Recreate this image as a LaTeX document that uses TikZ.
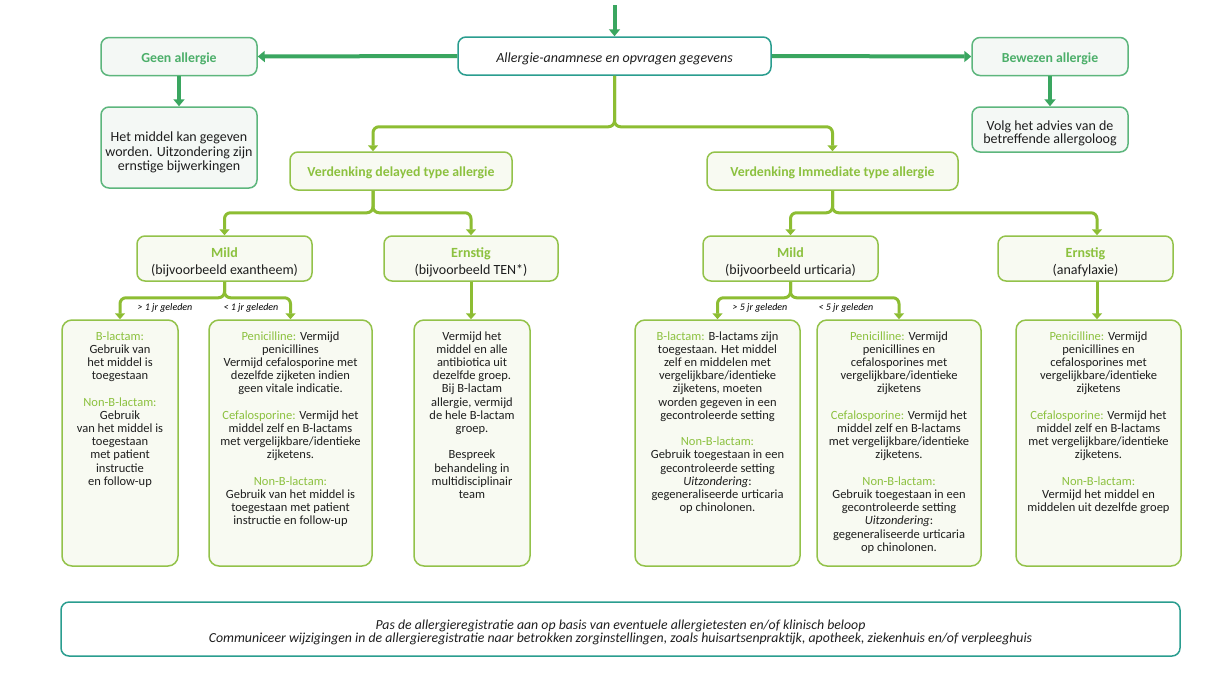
\documentclass[tikz,border=0pt]{standalone}
\usepackage{fontspec}
\setmainfont{Carlito}
\usetikzlibrary{arrows.meta,calc}
\definecolor{dkgreen}{HTML}{3AA660}
\definecolor{tealb}{HTML}{2A9D8F}
\definecolor{gborder}{HTML}{5DB67D}
\definecolor{gtext}{HTML}{4CAF6A}
\definecolor{gfill}{HTML}{F4F8F5}
\definecolor{lborder}{HTML}{93C24A}
\definecolor{lfill}{HTML}{F8FAF2}
\definecolor{ltext}{HTML}{8CC13F}
\definecolor{larrowc}{HTML}{8DBD33}
\definecolor{txtc}{HTML}{1E1E1E}
\newcommand\limet[1]{\textcolor{ltext}{#1}}
\tikzset{
  rbox/.style={draw, rounded corners=8pt, line width=1.5pt, inner sep=0pt},
  mainbox/.style={rbox, draw=tealb, fill=white},
  gbox/.style={rbox, draw=gborder, fill=gfill},
  lbox/.style={rbox, draw=lborder, fill=lfill},
  detbox/.style={lbox, rounded corners=10pt},
  tx/.style={inner sep=0pt, align=center, text=txtc},
  maintext/.style={tx, font=\fontsize{14}{16}\selectfont\itshape},
  gtitle/.style={tx, text=gtext, font=\fontsize{13.8}{15}\selectfont\bfseries},
  ltitle/.style={tx, text=ltext, font=\fontsize{13.8}{15}\selectfont\bfseries},
  gtext/.style={tx, font=\fontsize{14}{14.5}\selectfont},
  sevtext/.style={tx, font=\fontsize{14}{17}\selectfont},
  dettext/.style={tx, font=\fontsize{12.5}{13.2}\selectfont, anchor=north},
  gar/.style={draw=dkgreen, line width=4pt, -{Triangle[width=11pt,length=7pt]}},
  lar/.style={draw=larrowc, line width=3pt, rounded corners=6pt, -{Triangle[width=10pt,length=6pt]}},
  agelabel/.style={inner sep=0pt, text=black, font=\fontsize{10}{11}\selectfont\itshape},
}
\begin{document}
\begin{tikzpicture}[x=1pt,y=-1pt]
\useasboundingbox (0,0) rectangle (1230,673);
\fill[white] (0,0) rectangle (1230,673);

% top level boxes
\node[mainbox, minimum width=313pt, minimum height=38pt] (main) at (614.5,56) {};
\node[gbox, minimum width=156pt, minimum height=38pt] (geen) at (179,56.5) {};
\node[gbox, minimum width=156pt, minimum height=38pt] (bew) at (1050,56.5) {};
\node[gbox, minimum width=156pt, minimum height=81pt] (hetm) at (179,147.5) {};
\node[gbox, minimum width=156pt, minimum height=45pt] (volg) at (1050,129.5) {};
\node[maintext] (maint) at ($(main)+(0,3)$) {Allergie-anamnese en opvragen gegevens};
\node[gtitle] (geent) at ($(geen)+(0,2.5)$) {Geen allergie};
\node[gtitle] (bewt) at ($(bew)+(0,2.5)$) {Bewezen allergie};
\node[gtext] (hetmt) at ($(hetm)+(0,5)$) {Het middel kan gegeven\\worden. Uitzondering zijn\\ernstige bijwerkingen};
\node[gtext, font=\fontsize{14}{13.5}\selectfont] (volgt) at ($(volg)+(0,4)$) {Volg het advies van de\\betreffende allergoloog};

\coordinate (topin) at (614.5,5);
\draw[gar] (topin) -- (main.north);
\draw[gar] (main.west) -- (geen.east);
\draw[gar] (main.east) -- (bew.west);
\draw[gar] (geen.south) -- (hetm.north);
\draw[gar] (bew.south) -- (volg.north);

% suspicion level
\node[lbox, minimum width=222pt, minimum height=38pt] (delayed) at (401,171) {};
\node[lbox, minimum width=251pt, minimum height=38pt] (imm) at (832.5,171) {};
\node[ltitle] (delayedt) at ($(delayed)+(0,2)$) {Verdenking delayed type allergie};
\node[ltitle] (immt) at ($(imm)+(0,2)$) {Verdenking Immediate type allergie};
\coordinate (dIn) at ([xshift=-28pt]delayed.north);
\coordinate (dOut) at ([xshift=-28pt]delayed.south);
\draw[lar] (main.south) -- ++(0,51) -| (dIn);
\draw[lar] (main.south) -- ++(0,51) -| (imm.north);

% severity level
\node[lbox, minimum width=175pt, minimum height=45pt] (mild1) at (224.5,258.5) {};
\node[lbox, minimum width=174pt, minimum height=45pt] (ern1) at (471,258.5) {};
\node[lbox, minimum width=175pt, minimum height=45pt] (mild2) at (790.5,258.5) {};
\node[lbox, minimum width=175pt, minimum height=45pt] (ern2) at (1085.5,258.5) {};
\node[sevtext] (mild1t) at ($(mild1)+(0,4)$) {\textbf{\limet{Mild}}\\(bijvoorbeeld exantheem)};
\node[sevtext] (ern1t) at ($(ern1)+(0,4)$) {\textbf{\limet{Ernstig}}\\(bijvoorbeeld TEN*)};
\node[sevtext] (mild2t) at ($(mild2)+(0,4)$) {\textbf{\limet{Mild}}\\(bijvoorbeeld urticaria)};
\node[sevtext] (ern2t) at ($(ern2)+(0,4)$) {\textbf{\limet{Ernstig}}\\(anafylaxie)};
\coordinate (e2in) at ([xshift=11.5pt]ern2.north);
\coordinate (e2out) at ([xshift=11.5pt]ern2.south);

\draw[lar] (dOut) -- ++(0,22) -| (mild1.north);
\draw[lar] (dOut) -- ++(0,22) -| (ern1.north);
\draw[lar] (imm.south) -- ++(0,22) -| (mild2.north);
\draw[lar] (imm.south) -- ++(0,22) -| (e2in);

% detail level
\node[detbox, minimum width=116pt, minimum height=246pt] (b1) at (120,443) {};
\node[detbox, minimum width=163pt, minimum height=246pt] (b2) at (290.5,443) {};
\node[detbox, minimum width=116pt, minimum height=246pt] (b3) at (472,443) {};
\node[detbox, minimum width=165pt, minimum height=246pt] (b4) at (717.5,443) {};
\node[detbox, minimum width=164pt, minimum height=246pt] (b5) at (899,443) {};
\node[detbox, minimum width=165pt, minimum height=246pt] (b6) at (1098.5,443) {};

\draw[lar] (mild1.south) -- ++(0,16) -| (b1.north);
\draw[lar] (mild1.south) -- ++(0,16) -| (b2.north);
\draw[lar] (ern1.south) -- (ern1.south |- b3.north);
\draw[lar] (mild2.south) -- ++(0,16) -| (b4.north);
\draw[lar] (mild2.south) -- ++(0,16) -| (b5.north);
\draw[lar] (e2out) -- (e2out |- b6.north);

\node[agelabel] (l1) at (165,308) {> 1 jr geleden};
\node[agelabel] (l2) at (251,308) {< 1 jr geleden};
\node[agelabel] (l3) at (760,308) {> 5 jr geleden};
\node[agelabel] (l4) at (846,308) {< 5 jr geleden};

\node[dettext] (t1) at ($(b1.north)+(0,12)$) {\limet{B-lactam:}\\Gebruik van\\het middel is\\toegestaan\\[13.2pt]\limet{Non-B-lactam:}\\Gebruik\\van het middel is\\toegestaan\\met patient\\instructie\\en follow-up};
\node[dettext] (t2) at ($(b2.north)+(0,12)$) {\limet{Penicilline:} Vermijd\\penicillines\\Vermijd cefalosporine met\\dezelfde zijketen indien\\geen vitale indicatie.\\[13.2pt]\limet{Cefalosporine:} Vermijd het\\middel zelf en B-lactams\\met vergelijkbare/identieke\\zijketens.\\[13.2pt]\limet{Non-B-lactam:}\\Gebruik van het middel is\\toegestaan met patient\\instructie en follow-up};
\node[dettext] (t3) at ($(b3.north)+(0,12)$) {Vermijd het\\middel en alle\\antibiotica uit\\dezelfde groep.\\Bij B-lactam\\allergie, vermijd\\de hele B-lactam\\groep.\\[13.2pt]Bespreek\\behandeling in\\multidisciplinair\\team};
\node[dettext] (t4) at ($(b4.north)+(0,12)$) {\limet{B-lactam:} B-lactams zijn\\toegestaan. Het middel\\zelf en middelen met\\vergelijkbare/identieke\\zijketens, moeten\\worden gegeven in een\\gecontroleerde setting\\[13.2pt]\limet{Non-B-lactam:}\\Gebruik toegestaan in een\\gecontroleerde setting\\\textit{Uitzondering}:\\gegeneraliseerde urticaria\\op chinolonen.};
\node[dettext] (t5) at ($(b5.north)+(0,12)$) {\limet{Penicilline:} Vermijd\\penicillines en\\cefalosporines met\\vergelijkbare/identieke\\zijketens\\[13.2pt]\limet{Cefalosporine:} Vermijd het\\middel zelf en B-lactams\\met vergelijkbare/identieke\\zijketens.\\[13.2pt]\limet{Non-B-lactam:}\\Gebruik toegestaan in een\\gecontroleerde setting\\\textit{Uitzondering}:\\gegeneraliseerde urticaria\\op chinolonen.};
\node[dettext] (t6) at ($(b6.north)+(0,12)$) {\limet{Penicilline:} Vermijd\\penicillines en\\cefalosporines met\\vergelijkbare/identieke\\zijketens\\[13.2pt]\limet{Cefalosporine:} Vermijd het\\middel zelf en B-lactams\\met vergelijkbare/identieke\\zijketens.\\[13.2pt]\limet{Non-B-lactam:}\\Vermijd het middel en\\middelen uit dezelfde groep};

% bottom
\node[mainbox, minimum width=1119pt, minimum height=54pt] (bottom) at (620.5,629) {};
\node[tx, font=\fontsize{13.8}{13}\selectfont\itshape] (bottomt) at ($(bottom)+(0,3)$) {Pas de allergieregistratie aan op basis van eventuele allergietesten en/of klinisch beloop\\Communiceer wijzigingen in de allergieregistratie naar betrokken zorginstellingen, zoals huisartsenpraktijk, apotheek, ziekenhuis en/of verpleeghuis};
\end{tikzpicture}
\end{document}
